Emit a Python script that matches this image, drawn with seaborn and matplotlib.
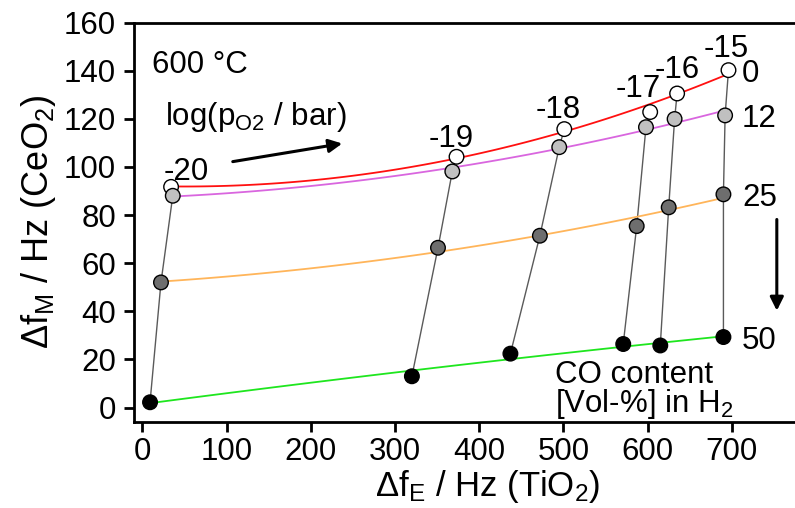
import numpy as np
import pandas as pd
import matplotlib
matplotlib.use("Agg")
import matplotlib.pyplot as plt
import seaborn as sns

# log(pO2 / bar) columns, left to right
log_po2 = ["-20", "-19", "-18", "-17", "-16", "-15"]
co_levels = ["0", "12", "25", "50"]

# delta f_E (TiO2) per CO level, one value per log(pO2) column
fe_co0 = [34, 373, 501, 603, 635, 696]
fe_co12 = [36, 368, 495, 598, 632, 692]
fe_co25 = [22, 351, 472, 587, 625, 690]
fe_co50 = [9, 320, 437, 571, 615, 690]

# delta f_M (CeO2)
fm_co0 = [91.7, 104.2, 115.7, 122.8, 130.5, 140.2]
fm_co12 = [88.0, 98.1, 108.2, 116.5, 119.9, 121.4]
fm_co25 = [52.0, 66.4, 71.4, 75.4, 83.2, 88.6]
fm_co50 = [2.2, 13.0, 22.4, 26.4, 25.8, 29.3]

fe = [fe_co0, fe_co12, fe_co25, fe_co50]
fm = [fm_co0, fm_co12, fm_co25, fm_co50]

face_colors = ["white", "#c0c0c0", "#6e6e6e", "black"]
line_colors = ["#ff1010", "#d966df", "#ffb55a", "#1ee61e"]
# label offsets (points) for the log(pO2) numbers
label_off = [(11, 5), (-3.6, 7.2), (-4.3, 8), (-8.6, 10.8), (0, 11.5), (-1.4, 9.4)]

rows = []
for lvl, xs, ys in zip(co_levels, fe, fm):
    for p, x, y in zip(log_po2, xs, ys):
        rows.append({"CO": lvl, "pO2": p, "fE": x, "fM": y})
df = pd.DataFrame(rows)

sns.set_theme(style="ticks")
plt.rcParams["font.family"] = ["Liberation Sans", "DejaVu Sans"]
plt.rcParams["mathtext.default"] = "regular"
for key in ["text.color", "axes.labelcolor", "xtick.color", "ytick.color",
            "xtick.labelcolor", "ytick.labelcolor"]:
    plt.rcParams[key] = "black"

fig = plt.figure(figsize=(7.95, 5.08), dpi=100)
ax = fig.add_axes([0.1686, 0.1693, 0.8314, 0.7864])

# gray connectors for each log(pO2) column
for p in log_po2:
    sub = df[df["pO2"] == p]
    ax.plot(sub["fE"], sub["fM"], color="#5a5a5a", lw=1.0, zorder=1)

# fitted curves for each CO level
for lvl, c in zip(co_levels, line_colors):
    sub = df[df["CO"] == lvl]
    sns.regplot(data=sub, x="fE", y="fM", order=2, ci=None, scatter=False,
                ax=ax, line_kws={"color": c, "lw": 1.3, "zorder": 2})

sns.scatterplot(data=df, x="fE", y="fM", hue="CO", palette=face_colors,
                s=110, edgecolor="black", linewidth=1.0, legend=False,
                ax=ax, zorder=3)

ax.set_xlim(-10, 775)
ax.set_ylim(-6, 160)
ax.set_xticks(range(0, 701, 100))
ax.set_yticks(range(0, 161, 20))
ax.tick_params(labelsize=22.5, width=2, length=7, pad=6, direction="out", color="black")
ax.tick_params(axis="x", pad=3.5)
for s in ["left", "bottom", "top"]:
    ax.spines[s].set_linewidth(2)
    ax.spines[s].set_color("black")
ax.spines["right"].set_visible(False)

ax.set_xlabel("Δf$_E$ / Hz (TiO$_2$)", fontsize=25)
ax.set_ylabel("Δf$_M$ / Hz (CeO$_2$)", fontsize=26)
ax.xaxis.set_label_coords(0.5356, -0.116)

# pO2 labels above the white points
for p, x, y, off in zip(log_po2, fe_co0, fm_co0, label_off):
    ax.annotate(p, (x, y), xytext=off, textcoords="offset points",
                ha="center", va="baseline", fontsize=22.5)

# CO level labels at right
for lvl, ys in zip(co_levels, fm):
    ax.text(712, ys[-1] - 1.5, lvl, ha="left", va="center", fontsize=22.5)

ax.text(11.5, 139, "600 °C", fontsize=22.5, va="baseline")
ax.text(27, 117.4, "log(p$_{O2}$ / bar)", fontsize=22.5, va="baseline")
ax.annotate("", xy=(240.5, 109.9), xytext=(104, 102),
            arrowprops=dict(arrowstyle="-|>", color="black", lw=2.2,
                            mutation_scale=20))
ax.annotate("", xy=(753.4, 39.1), xytext=(753.4, 79.3),
            arrowprops=dict(arrowstyle="-|>", color="black", lw=2.2,
                            mutation_scale=20))
ax.text(490, 10.2, "CO content", fontsize=22.5, va="baseline")
ax.text(490, -1.9, "[Vol-%] in H$_2$", fontsize=22.5, va="baseline")

fig.savefig("out.png", dpi=100)
